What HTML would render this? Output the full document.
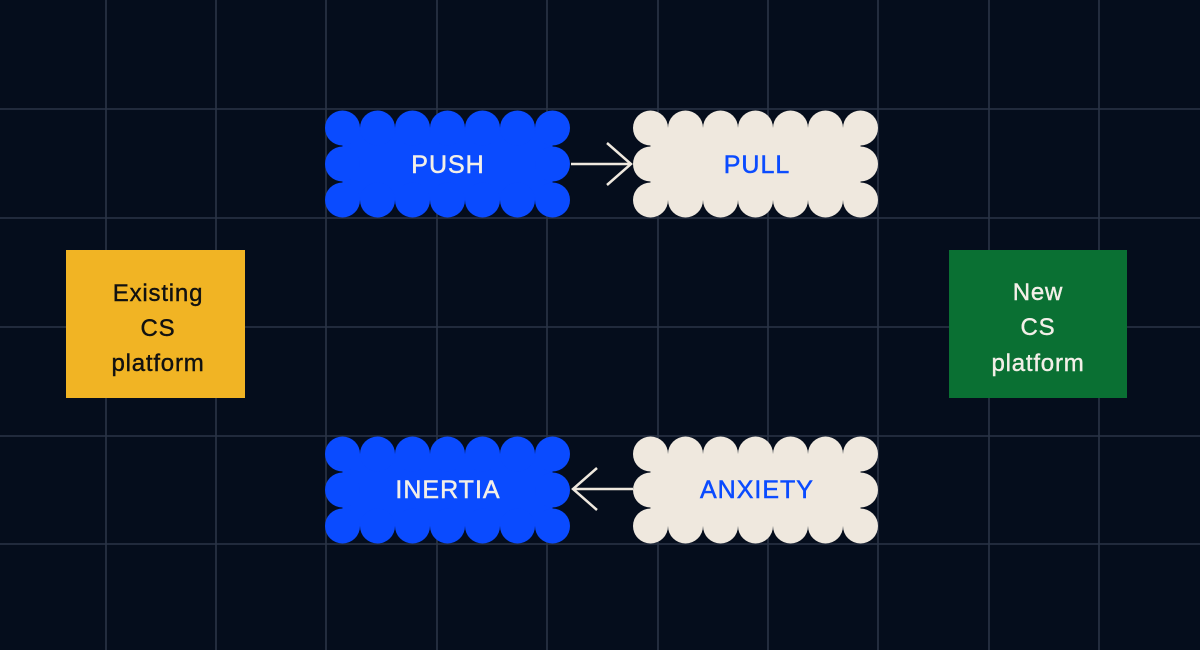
<!DOCTYPE html>
<html><head><meta charset="utf-8"><style>
html,body{margin:0;padding:0;background:#050d1c;}
svg{display:block}
text{font-family:"Liberation Sans",sans-serif;}
</style></head><body>
<svg width="1200" height="650" viewBox="0 0 1200 650" xmlns="http://www.w3.org/2000/svg">
<rect width="1200" height="650" fill="#050d1c"/>
<g stroke="#2b3446" stroke-width="1.6">
<line x1="106" y1="0" x2="106" y2="650"/><line x1="216" y1="0" x2="216" y2="650"/>
<line x1="326" y1="0" x2="326" y2="650"/><line x1="437" y1="0" x2="437" y2="650"/>
<line x1="547" y1="0" x2="547" y2="650"/><line x1="658" y1="0" x2="658" y2="650"/>
<line x1="768" y1="0" x2="768" y2="650"/><line x1="878" y1="0" x2="878" y2="650"/>
<line x1="989" y1="0" x2="989" y2="650"/><line x1="1099" y1="0" x2="1099" y2="650"/>
<line x1="0" y1="109" x2="1200" y2="109"/><line x1="0" y1="218" x2="1200" y2="218"/>
<line x1="0" y1="327" x2="1200" y2="327"/><line x1="0" y1="436" x2="1200" y2="436"/>
<line x1="0" y1="544" x2="1200" y2="544"/>
</g>
<defs>
<g id="cloud">
<rect x="17.5" y="18" width="210" height="72"/>
<circle cx="17.5" cy="18" r="17.5"/><circle cx="52.5" cy="18" r="17.5"/><circle cx="87.5" cy="18" r="17.5"/><circle cx="122.5" cy="18" r="17.5"/><circle cx="157.5" cy="18" r="17.5"/><circle cx="192.5" cy="18" r="17.5"/><circle cx="227.5" cy="18" r="17.5"/>
<circle cx="17.5" cy="54" r="17.5"/><circle cx="227.5" cy="54" r="17.5"/>
<circle cx="17.5" cy="90" r="17.5"/><circle cx="52.5" cy="90" r="17.5"/><circle cx="87.5" cy="90" r="17.5"/><circle cx="122.5" cy="90" r="17.5"/><circle cx="157.5" cy="90" r="17.5"/><circle cx="192.5" cy="90" r="17.5"/><circle cx="227.5" cy="90" r="17.5"/>
</g>
</defs>
<use href="#cloud" x="325" y="110" fill="#0a4bff"/>
<use href="#cloud" x="633" y="110" fill="#efe8de"/>
<use href="#cloud" x="325" y="436" fill="#0a4bff"/>
<use href="#cloud" x="633" y="436" fill="#efe8de"/>
<g font-size="25" text-anchor="middle" letter-spacing="1" stroke-width="0.5">
<text x="448" y="173" fill="#f3efe8" stroke="#f3efe8">PUSH</text>
<text x="757" y="173" fill="#0a4bff" stroke="#0a4bff">PULL</text>
<text x="448" y="498" fill="#f3efe8" stroke="#f3efe8">INERTIA</text>
<text x="757" y="498" fill="#0a4bff" stroke="#0a4bff">ANXIETY</text>
</g>
<g stroke="#efe8de" stroke-width="2.5" fill="none">
<line x1="571" y1="164" x2="631" y2="164"/><polyline points="607,143 631,164 607,185"/>
<line x1="573" y1="489" x2="633" y2="489"/><polyline points="597,468 573,489 597,510"/>
</g>
<rect x="66" y="250" width="179" height="148" fill="#f1b424"/>
<rect x="949" y="250" width="178" height="148" fill="#0a7033"/>
<g font-size="24" text-anchor="middle" letter-spacing="0.8" stroke-width="0.4">
<text x="158" y="301" fill="#111" stroke="#111">Existing</text>
<text x="158" y="336" fill="#111" stroke="#111">CS</text>
<text x="158" y="371" fill="#111" stroke="#111">platform</text>
<text x="1038" y="300" fill="#f3efe8" stroke="#f3efe8">New</text>
<text x="1038" y="335" fill="#f3efe8" stroke="#f3efe8">CS</text>
<text x="1038" y="371" fill="#f3efe8" stroke="#f3efe8">platform</text>
</g>
</svg>
</body></html>
